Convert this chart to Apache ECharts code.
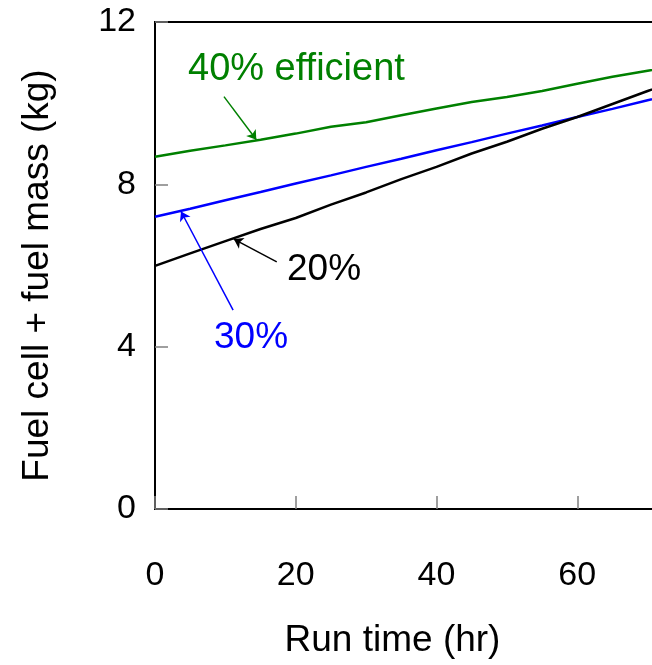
<!DOCTYPE html>
<html>
<head>
<meta charset="utf-8">
<script src="https://cdn.jsdelivr.net/npm/echarts@6/dist/echarts.min.js"></script>
<style>
  html, body { margin: 0; padding: 0; background: #fff; }
  #main { width: 652px; height: 665px; }
</style>
</head>
<body>
<div id="main"></div>
<script>
// run time (hr)
const runTime = [0, 5, 10, 15, 20, 25, 30, 35, 40, 45, 50, 55, 60, 65, 70, 75, 80]
// fuel cell + fuel mass (kg) for each efficiency
const eff20 = [5.99, 6.3, 6.6, 6.9, 7.17, 7.5, 7.8, 8.13, 8.43, 8.76, 9.05, 9.37, 9.66, 9.98, 10.3, 10.6, 10.9]
const eff30 = [7.2, 7.4, 7.61, 7.81, 8.02, 8.22, 8.43, 8.63, 8.84, 9.04, 9.25, 9.45, 9.66, 9.86, 10.07, 10.27, 10.47]
const eff40 = [8.68, 8.83, 8.96, 9.1, 9.25, 9.42, 9.53, 9.7, 9.87, 10.03, 10.15, 10.3, 10.48, 10.65, 10.8, 10.95, 11.1]
const yTicks = [0, 4, 8, 12]

const FONT = '"Liberation Sans", Arial, sans-serif'

const pairs = (ys) => runTime.map((x, i) => [x, ys[i]])

// annotation arrow: [from, to] in data units
const arrow = (from, to, color) => ({
  silent: true,
  symbol: ['none', 'arrow'],
  symbolSize: 9,
  label: { show: false },
  lineStyle: { color: color, width: 1.5, type: 'solid' },
  data: [[{ coord: from }, { coord: to }]],
})

const chart = echarts.init(document.getElementById('main'))

chart.setOption({
  animation: false,
  grid: {
    left: 155,
    top: 22,
    bottom: 156,
    width: 563, // plot runs past the right edge of the picture
    outerBoundsMode: 'none',
    containLabel: false,
    show: true,
    borderColor: '#000',
    borderWidth: 2,
  },
  xAxis: {
    type: 'value',
    min: 0,
    max: 80,
    interval: 20,
    name: 'Run time (hr)',
    nameLocation: 'middle',
    nameGap: 113,
    // shift left so it centres on the visible part
    nameTextStyle: { fontFamily: FONT, fontSize: 37, color: '#000', padding: [0, 88, 0, 0] },
    axisLine: { lineStyle: { color: '#000', width: 2 } },
    axisTick: { inside: true, length: 13, lineStyle: { color: '#808080', width: 1.5 } },
    axisLabel: { margin: 50, fontFamily: FONT, fontSize: 34, color: '#000' },
    splitLine: { show: false },
  },
  yAxis: {
    type: 'value',
    min: yTicks[0],
    max: yTicks[yTicks.length - 1],
    interval: 4,
    name: 'Fuel cell + fuel mass (kg)',
    nameLocation: 'middle',
    nameGap: 99,
    nameRotate: 90,
    nameTextStyle: { fontFamily: FONT, fontSize: 37, color: '#000', padding: [0, 20, 0, 0] },
    axisLine: { show: true, lineStyle: { color: '#000', width: 2 } },
    axisTick: { show: true, inside: true, length: 13, lineStyle: { color: '#808080', width: 1.5 } },
    axisLabel: { margin: 19, fontFamily: FONT, fontSize: 34, color: '#000' },
    splitLine: { show: false },
  },
  graphic: [
    { type: 'text', x: 188, y: 70, style: { text: '40% efficient', fill: '#008000', font: '38px ' + FONT, verticalAlign: 'middle' } },
    { type: 'text', x: 287, y: 270, style: { text: '20%', fill: '#000', font: '37px ' + FONT, verticalAlign: 'middle' } },
    { type: 'text', x: 214, y: 338, style: { text: '30%', fill: '#0000ff', font: '37px ' + FONT, verticalAlign: 'middle' } },
  ],
  series: [
    {
      name: '40%',
      type: 'line',
      data: pairs(eff40),
      showSymbol: false,
      lineStyle: { color: '#008000', width: 2.5 },
      markLine: arrow([9.8, 10.16], [14.4, 9.1], '#008000'),
    },
    {
      name: '30%',
      type: 'line',
      data: pairs(eff30),
      showSymbol: false,
      lineStyle: { color: '#0000ff', width: 2.5 },
      markLine: arrow([11.1, 4.9], [3.7, 7.33], '#0000ff'),
    },
    {
      name: '20%',
      type: 'line',
      data: pairs(eff20),
      showSymbol: false,
      lineStyle: { color: '#000', width: 2.5 },
      markLine: arrow([17.3, 6.09], [11.2, 6.65], '#000'),
    },
  ],
})
</script>
</body>
</html>
